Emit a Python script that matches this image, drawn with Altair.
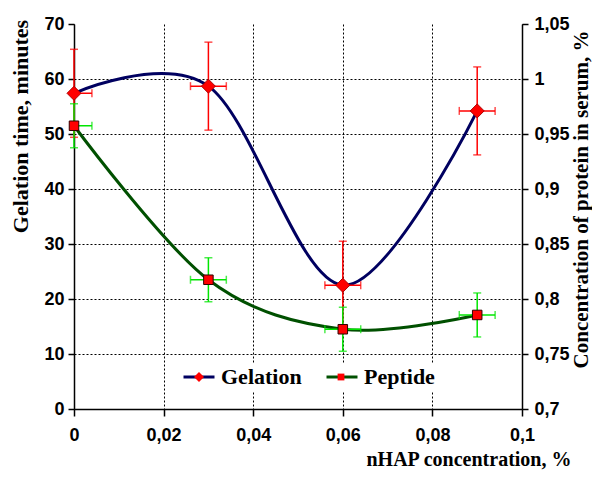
import altair as alt
import pandas as pd

# ---- data ----
x_conc = [0.0, 0.03, 0.06, 0.09]
x_err = [0.004, 0.004, 0.004, 0.004]
gelation = [57.4, 58.7, 22.5, 54.2]
gelation_err = [8.0, 8.0, 8.0, 8.0]
peptide = [0.9575, 0.8175, 0.7725, 0.7855]
peptide_err = [0.02, 0.02, 0.02, 0.02]
x_ticks = [0, 0.02, 0.04, 0.06, 0.08, 0.1]
left_ticks = [0, 10, 20, 30, 40, 50, 60, 70]
right_ticks = [0.7, 0.75, 0.8, 0.85, 0.9, 0.95, 1.0, 1.05]
series_names = ["Gelation", "Peptide"]

NAVY = "#000060"
DKGREEN = "#005000"
RED = "#ff0000"
LIME = "#00e600"

DIAMOND = "M-3.1,0M0,-1L1,0L0,1L-1,0ZM3.1,0"
SQUARE = "M-3.1,0M-0.68,-0.68L0.68,-0.68L0.68,0.68L-0.68,0.68ZM3.1,0"
LEG_LINE = "M-3.1,0L3.1,0"


def make_df(ys, errs, name):
    return pd.DataFrame({
        "x": x_conc,
        "y": ys,
        "ylo": [a - b for a, b in zip(ys, errs)],
        "yhi": [a + b for a, b in zip(ys, errs)],
        "xlo": [a - b for a, b in zip(x_conc, x_err)],
        "xhi": [a + b for a, b in zip(x_conc, x_err)],
        "series": name,
        "marker": name,
    })


gel_df = make_df(gelation, gelation_err, series_names[0])
pep_df = make_df(peptide, peptide_err, series_names[1])

comma_expr = "replace(format(datum.value, '~g'), '.', ',')"
LABEL_FONT = "'Liberation Sans', Arial, sans-serif"
TITLE_FONT = "'Liberation Serif', 'Times New Roman', serif"

x_axis = alt.Axis(
    title="nHAP concentration, %", values=x_ticks, labelExpr=comma_expr,
    grid=True, gridDash=[2, 2], gridColor="black", gridWidth=1,
    domainColor="black", domainWidth=1.5, tickColor="black", tickSize=7, tickWidth=1.5,
    labelFont=LABEL_FONT, labelFontSize=18, labelFontWeight="bold", labelColor="black",
    labelPadding=10, labelFlush=False, labelOverlap=False,
    titleFont=TITLE_FONT, titleFontSize=20, titleFontWeight="bold", titleColor="black",
    titleX=497, titleY=56, titleAlign="right", titleBaseline="alphabetic",
)
left_axis = alt.Axis(
    title="Gelation time, minutes", orient="left", values=left_ticks,
    grid=True, gridDash=[2, 2], gridColor="black", gridWidth=1,
    gridOpacity={"condition": {"test": "datum.value >= 70", "value": 0}, "value": 1},
    domainColor="black", domainWidth=1.5, tickColor="black", tickSize=6, tickWidth=1.5,
    labelFont=LABEL_FONT, labelFontSize=18, labelFontWeight="bold", labelColor="black",
    labelPadding=4, labelOverlap=False,
    titleFont=TITLE_FONT, titleFontSize=22, titleFontWeight="bold", titleColor="black",
    titleAngle=270, titleX=-47, titleY=102, titleAlign="center", titleBaseline="alphabetic",
)
right_axis = alt.Axis(
    title="Concentration of protein in serum, %", orient="right", values=right_ticks,
    labelExpr=comma_expr, grid=False,
    domainColor="black", domainWidth=1.5, tickColor="black", tickSize=6, tickWidth=1.5,
    labelFont=LABEL_FONT, labelFontSize=18, labelFontWeight="bold", labelColor="black",
    labelPadding=6, labelOverlap=False,
    titleFont=TITLE_FONT, titleFontSize=21, titleFontWeight="bold", titleColor="black",
    titleAngle=270, titleX=65, titleY=175, titleAlign="center", titleBaseline="alphabetic",
)

xs = alt.Scale(domain=[0, 0.1], nice=False, zero=False)
ys_left = alt.Scale(domain=[0, 70], nice=False, zero=False)
ys_right = alt.Scale(domain=[0.7, 1.05], nice=False, zero=False)

common_leg = dict(
    title=None, orient="none", legendX=105, legendY=339, direction="horizontal",
    symbolSize=100, labelFont=TITLE_FONT, labelFontSize=22, labelFontWeight="bold",
    labelOffset=11, symbolOffset=6, padding=3,
)
line_legend = alt.Legend(symbolType=LEG_LINE, symbolStrokeWidth=3, labelColor="black",
                         fillColor="white", columnPadding=18, **common_leg)
marker_legend = alt.Legend(symbolStrokeWidth=1, symbolStrokeColor="#500000",
                           labelExpr="''", columnPadding=102, **common_leg)

color_enc = alt.Color("series:N", scale=alt.Scale(range=[NAVY, DKGREEN]), legend=line_legend)
fill_enc = alt.Fill("marker:N", scale=alt.Scale(range=[RED, RED]), legend=marker_legend)
shape_enc = alt.Shape("marker:N", scale=alt.Scale(range=[DIAMOND, SQUARE]), legend=marker_legend)


def group(df, yscale, yaxis, errcolor, edge):
    base = alt.Chart(df)
    X = alt.X("x:Q", scale=xs, axis=x_axis)
    line = base.mark_line(interpolate="cardinal", strokeWidth=3).encode(
        x=X, y=alt.Y("y:Q", scale=yscale, axis=yaxis), color=color_enc)
    vbar = base.mark_rule(color=errcolor, strokeWidth=1.5).encode(
        x=X, y=alt.Y("ylo:Q", scale=yscale, axis=yaxis), y2="yhi:Q")
    vcap = base.transform_fold(["ylo", "yhi"], as_=["end", "v"]).mark_tick(
        orient="horizontal", size=8, thickness=1.5, color=errcolor).encode(
        x=X, y=alt.Y("v:Q", scale=yscale, axis=yaxis))
    hbar = base.mark_rule(color=errcolor, strokeWidth=1.5, clip=True).encode(
        x=alt.X("xlo:Q", scale=xs, axis=x_axis), x2="xhi:Q",
        y=alt.Y("y:Q", scale=yscale, axis=yaxis))
    hcap = base.transform_fold(["xlo", "xhi"], as_=["end", "v"]).mark_tick(
        orient="vertical", size=8, thickness=1.5, color=errcolor, clip=True).encode(
        x=alt.X("v:Q", scale=xs, axis=x_axis), y=alt.Y("y:Q", scale=yscale, axis=yaxis))
    pts = base.mark_point(filled=True, size=196, stroke=edge, strokeWidth=1, opacity=1).encode(
        x=X, y=alt.Y("y:Q", scale=yscale, axis=yaxis), fill=fill_enc, shape=shape_enc)
    return alt.layer(line, vbar, vcap, hbar, hcap, pts)


gel_layer = group(gel_df, ys_left, left_axis, RED, "#b00000")
pep_layer = group(pep_df, ys_right, right_axis, LIME, "#300000")

chart = alt.layer(gel_layer, pep_layer).resolve_scale(y="independent").properties(
    width=448, height=385,
    autosize=alt.AutoSizeParams(type="none"),
    padding={"left": 66, "top": 16, "right": 70, "bottom": 61},
).configure_view(stroke=None)

chart.save("out.html", embed_options={"renderer": "svg", "actions": False})
